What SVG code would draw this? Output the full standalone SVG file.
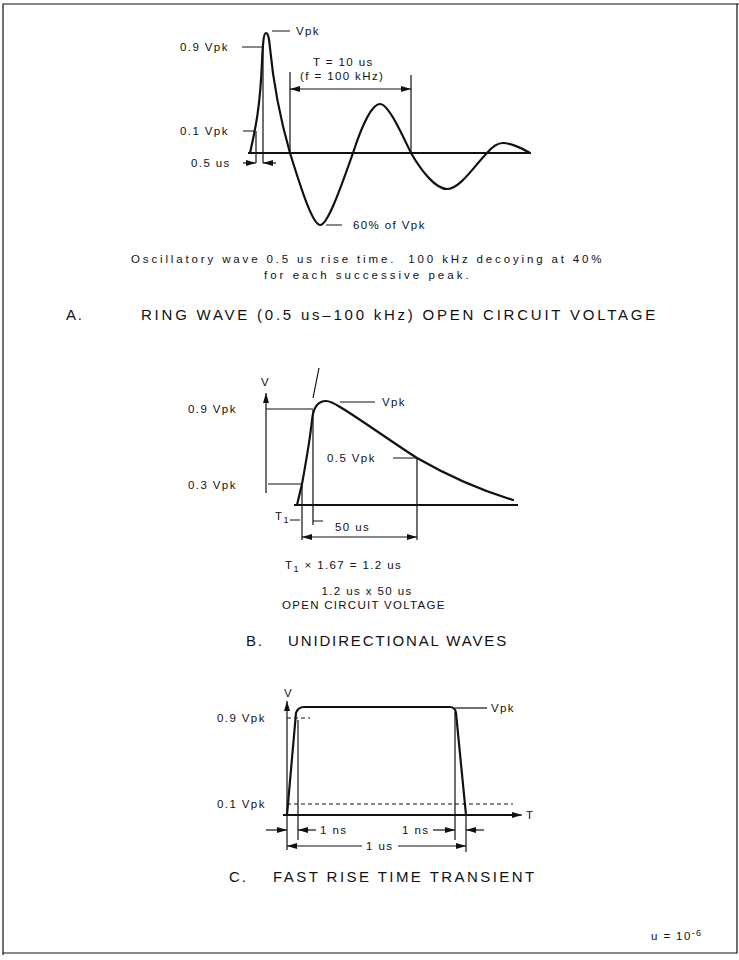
<svg xmlns="http://www.w3.org/2000/svg" width="739" height="960" viewBox="0 0 739 960">
<style>
.t{font-family:"Liberation Sans",Arial,sans-serif;font-size:11.5px;fill:#111;letter-spacing:1.4px}
.h{font-family:"Liberation Sans",Arial,sans-serif;font-size:15px;fill:#111;letter-spacing:1.8px}
.w{fill:none;stroke:#111;stroke-width:2.2;stroke-linejoin:round;stroke-linecap:round}
.l{fill:none;stroke:#111;stroke-width:1.2}
.b{fill:none;stroke:#111;stroke-width:1.8}
.d{fill:none;stroke:#111;stroke-width:1;stroke-dasharray:4 3}
.a{fill:none;stroke:#111;stroke-width:1.2;marker-end:url(#ah)}
.a2{fill:none;stroke:#111;stroke-width:1.2;marker-start:url(#ahs);marker-end:url(#ah)}
</style>
<defs>
<marker id="ah" viewBox="0 0 10 6" refX="10" refY="3" markerWidth="10" markerHeight="6" markerUnits="userSpaceOnUse" orient="auto"><path d="M0,0 L10,3 L0,6 Z" fill="#111"/></marker>
<marker id="ahs" viewBox="0 0 10 6" refX="0" refY="3" markerWidth="10" markerHeight="6" markerUnits="userSpaceOnUse" orient="auto"><path d="M10,0 L0,3 L10,6 Z" fill="#111"/></marker>
</defs>
<rect x="0" y="0" width="739" height="960" fill="#fff"/>
<path class="l" d="M3,955 L3,4 L739,4 M737,4 L737,953 L3,953"/>

<g id="sectionA">
<g id="A-axis"><path class="b" d="M248,153 L530,153"/></g>
<g id="A-wave"><path class="w" d="M250,153 C255,130 260,110 262,62 C263,40 264,33 266,33 C268,33 269,38 270,48 C274,90 282,125 290,153 C300,185 312,224 320,225 C327,226 340,190 353,153 C362,125 372,104 380,104 C388,104 400,130 411,153 C422,172 436,189 447,189 C460,189 475,165 487,153 C492,147 497,143 503,143 C510,143 522,148 530,153"/></g>
<g id="A-connectors">
<path class="l" d="M263,47 L263,163 M256,131 L256,163 M290,72 L290,153 M411,75 L411,153"/>
<path class="l" d="M242,47 L262,47 M272,31 L290,31 M243,131 L255,131 M326,225 L342,225"/>
<path class="a" d="M243,163 L256,163"/>
<path class="a" d="M276,163 L263,163"/>
<path class="a2" d="M290,89 L411,89"/>
</g>
<text class="t" x="180" y="51">0.9 Vpk</text>
<text class="t" x="296" y="35">Vpk</text>
<text class="t" x="180" y="135">0.1 Vpk</text>
<text class="t" x="191" y="167">0.5 us</text>
<text class="t" x="313" y="66">T = 10 us</text>
<text class="t" x="300" y="80">(f = 100 kHz)</text>
<text class="t" x="353" y="229">60% of Vpk</text>
<text class="t" x="131" y="263" textLength="472" lengthAdjust="spacing">Oscillatory wave 0.5 us rise time.&#160; 100 kHz decoying at 40%</text>
<text class="t" x="264" y="279" textLength="206" lengthAdjust="spacing">for each successive peak.</text>
<text class="h" x="66" y="320">A.</text>
<text class="h" x="141" y="320" textLength="516" lengthAdjust="spacing">RING WAVE (0.5 us–100 kHz) OPEN CIRCUIT VOLTAGE</text>
</g>

<g id="sectionB">
<g id="B-axis"><path class="b" d="M294,505 L518,505"/><path class="a" d="M266,493 L266,393"/></g>
<g id="B-wave"><path class="w" d="M297,505 L302,484 C306,462 310,440 312,420 C313,410 316,401 326,401 C332,401 338,406 345,410 C370,426 395,444 417,458 C450,477 480,490 513,500"/></g>
<g id="B-connectors">
<path class="l" d="M319,368 L313,398"/>
<path class="l" d="M266,409 L313,409 M268,484 L302,484 M340,402 L375,402 M393,458 L417,458"/>
<path class="l" d="M313,410 L313,525 M302,484 L302,540 M417,458 L417,540"/>
<path class="l" d="M290,520 L300,520 M313,521 L323,521"/>
<path class="a2" d="M302,537 L417,537"/>
</g>
<text class="t" x="261" y="386">V</text>
<text class="t" x="188" y="413">0.9 Vpk</text>
<text class="t" x="188" y="489">0.3 Vpk</text>
<text class="t" x="382" y="406">Vpk</text>
<text class="t" x="327" y="462">0.5 Vpk</text>
<text class="t" x="275" y="520">T<tspan font-size="9" dy="3">1</tspan></text>
<text class="t" x="335" y="531">50 us</text>
<text class="t" x="285" y="569">T<tspan font-size="9" dy="3">1</tspan><tspan dy="-3"> × 1.67 = 1.2 us</tspan></text>
<text class="t" x="367" y="595" text-anchor="middle">1.2 us x 50 us</text>
<text class="t" x="282" y="609" textLength="163" lengthAdjust="spacing" style="letter-spacing:0.6px">OPEN CIRCUIT VOLTAGE</text>
<text class="h" x="246" y="646">B.</text>
<text class="h" x="288" y="646" textLength="220" lengthAdjust="spacing">UNIDIRECTIONAL WAVES</text>
</g>

<g id="sectionC">
<g id="C-axis"><path class="b" d="M283,815 L512,815"/><path class="a" d="M505,815 L522,815"/><path class="a" d="M287,815 L287,701"/></g>
<g id="C-wave"><path class="w" d="M287,815 L296,713 Q298,707 304,707 L450,707 Q455,707 456,713 L466,815"/></g>
<g id="C-connectors">
<path class="d" d="M287,718 L310,718 M287,804 L513,804"/>
<path class="l" d="M455,708 L487,708"/>
<path class="l" d="M287,815 L287,850 M298,720 L298,840 M455,712 L455,840 M466,815 L466,852"/>
<path class="a" d="M266,830 L287,830"/>
<path class="a" d="M316,830 L298,830"/>
<path class="a" d="M433,830 L455,830"/>
<path class="a" d="M484,830 L466,830"/>
<path class="a" d="M362,846 L287,846"/>
<path class="a" d="M398,846 L466,846"/>
</g>
<text class="t" x="284" y="697">V</text>
<text class="t" x="491" y="712">Vpk</text>
<text class="t" x="217" y="722">0.9 Vpk</text>
<text class="t" x="217" y="808">0.1 Vpk</text>
<text class="t" x="526" y="819">T</text>
<text class="t" x="320" y="834">1 ns</text>
<text class="t" x="402" y="834">1 ns</text>
<text class="t" x="366" y="850">1 us</text>
<text class="h" x="229" y="882">C.</text>
<text class="h" x="273" y="882" textLength="263" lengthAdjust="spacing">FAST RISE TIME TRANSIENT</text>
</g>

<text class="t" x="651" y="940">u = 10<tspan font-size="9" dy="-4">-6</tspan></text>
</svg>
